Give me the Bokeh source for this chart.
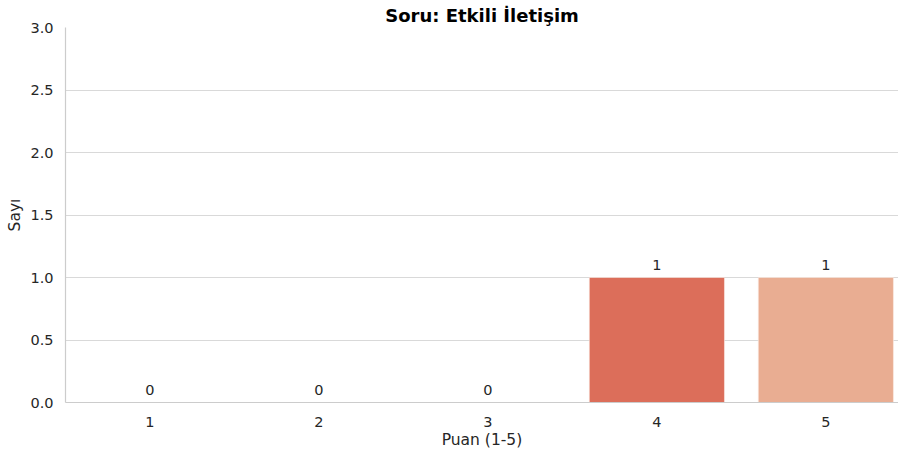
from bokeh.plotting import figure
from bokeh.models import ColumnDataSource, Range1d, FixedTicker
from bokeh.core.properties import value
from bokeh.embed import file_html
from bokeh.resources import INLINE

# data
categories = ["1", "2", "3", "4", "5"]
counts = [0, 0, 0, 1, 1]
bar_colors = ["#5b7fd6", "#9ebcf5", "#dcdddd", "#dc6e5a", "#e9ad92"]
title_text = "Soru: Etkili İletişim"
x_label = "Puan (1-5)"
y_label = "Sayı"
y_ticks = [0.0, 0.5, 1.0, 1.5, 2.0, 2.5, 3.0]

FONT = "DejaVu Sans"
TXT = "#262626"

xs = list(range(1, len(categories) + 1))
src = ColumnDataSource(dict(
    x=xs, top=counts, color=bar_colors,
    label=[str(c) for c in counts],
))

p = figure(width=898, height=451, output_backend="svg", toolbar_location=None,
           x_range=Range1d(0.5, 5.43), y_range=Range1d(0, 3),
           min_border_left=65, min_border_right=0, min_border_top=27,
           min_border_bottom=0)
p.outline_line_color = None
p.background_fill_color = "white"
p.border_fill_color = "white"

p.vbar(x="x", top="top", width=0.8, bottom=0, color="color", source=src,
       line_color="#fbeee8", line_width=0.6)
p.text(x="x", y="top", text="label", source=src, text_align="center",
       text_baseline="bottom", y_offset=-8, text_font=value(FONT),
       text_font_size="14.5px", text_color=TXT)

p.title.text = title_text
p.title.align = "center"
p.title.text_font = FONT
p.title.text_font_size = "18px"
p.title.text_font_style = "bold"
p.title.text_color = "black"
p.title.standoff = 4
p.title.offset = 0

p.xgrid.grid_line_color = None
p.ygrid.grid_line_color = "#d9d9d9"
p.ygrid.grid_line_width = 1.2
p.ygrid.ticker = FixedTicker(ticks=y_ticks)

p.xaxis.ticker = FixedTicker(ticks=xs)
p.xaxis.major_label_overrides = {x: c for x, c in zip(xs, categories)}
p.yaxis.ticker = FixedTicker(ticks=y_ticks)
p.yaxis.major_label_overrides = {t: f"{t:.1f}" for t in y_ticks}

for ax in (p.xaxis[0], p.yaxis[0]):
    ax.axis_line_color = "#cccccc"
    ax.axis_line_width = 1.2
    ax.major_tick_line_color = None
    ax.minor_tick_line_color = None
    ax.major_tick_out = 0
    ax.major_tick_in = 0
    ax.minor_tick_out = 0
    ax.major_label_text_font = FONT
    ax.major_label_text_font_size = "14.5px"
    ax.major_label_text_color = TXT
    ax.axis_label_text_font = FONT
    ax.axis_label_text_font_size = "15.5px"
    ax.axis_label_text_font_style = "normal"
    ax.axis_label_text_color = TXT

p.xaxis.axis_label = x_label
p.yaxis.axis_label = y_label
p.xaxis.major_label_standoff = 14
p.xaxis.axis_label_standoff = 1
p.yaxis.major_label_standoff = 12
p.yaxis.axis_label_standoff = 3

open("out.html", "w").write(file_html(p, INLINE))
